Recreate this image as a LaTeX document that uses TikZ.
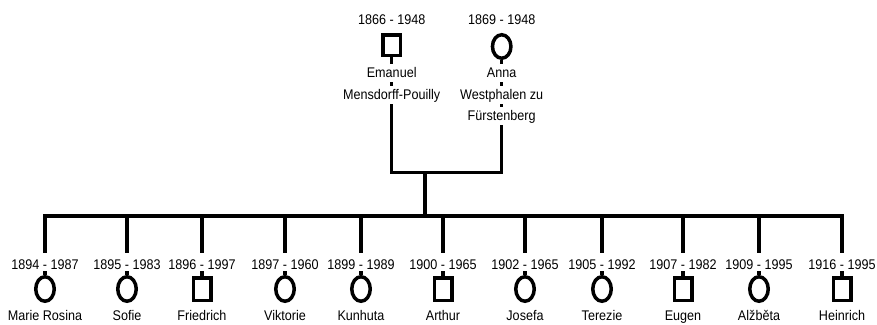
\documentclass[tikz,border=0pt]{standalone}
\usepackage{fontspec}
\setmainfont{Liberation Sans}[FakeStretch=0.9]
\usetikzlibrary{shapes.geometric,backgrounds}
\tikzset{
  lbl/.style={fill=white, inner xsep=1pt, inner ysep=0pt, text height=13.5pt, text depth=4.5pt, anchor=base, font=\fontsize{14}{16}\selectfont},
  datelbl/.style={lbl, text height=16pt, text depth=2pt},
  mal/.style={draw, rectangle, line width=3.5pt, minimum width=17.5pt, minimum height=22.5pt, inner sep=0pt, fill=white},
  fem/.style={draw, ellipse, line width=3.5pt, minimum width=18.5pt, minimum height=24.5pt, inner sep=0pt, fill=white},
  conn/.style={line width=3.5pt}
}
\begin{document}
\begin{tikzpicture}[x=1pt,y=-1pt]
\useasboundingbox (0,0) rectangle (877,324);
% parents
\node[datelbl] (emd) at (391.7,24) {1866 - 1948};
\node[mal, minimum height=20.5pt] (ems) at (391.7,45) {};
\node[lbl] (emn1) at (391.7,77.5) {Emanuel};
\node[lbl] (emn2) at (391.7,99) {Mensdorff-Pouilly};
\node[datelbl] (and) at (501.7,24) {1869 - 1948};
\node[fem, minimum height=23.5pt] (ans) at (501.7,46.5) {};
\node[lbl] (ann1) at (501.7,77.5) {Anna};
\node[lbl] (ann2) at (501.7,99) {Westphalen zu};
\node[lbl] (ann3) at (501.7,120.5) {Fürstenberg};
\coordinate (cpl) at (425,172.3);
\coordinate (bar) at (425,216);
% children
\foreach \x/\d/\s/\n [count=\i] in {
  45/1894 - 1987/fem/Marie Rosina,
  127/1895 - 1983/fem/Sofie,
  202/1896 - 1997/mal/Friedrich,
  285/1897 - 1960/fem/Viktorie,
  361/1899 - 1989/fem/Kunhuta,
  443/1900 - 1965/mal/Arthur,
  525/1902 - 1965/fem/Josefa,
  602/1905 - 1992/fem/Terezie,
  683/1907 - 1982/mal/Eugen,
  759/1909 - 1995/fem/Alžběta,
  842/1916 - 1995/mal/Heinrich}{
  \node[datelbl] (cd\i) at (\x,269) {\d};
  \node[\s] (cs\i) at (\x,289) {};
  \node[lbl] (cn\i) at (\x,320) {\n};
}
\begin{scope}[on background layer]
  \draw[conn] (ems.south) |- (cpl) -| (ans.south);
  \draw[conn] (cpl) -- (bar);
  \draw[conn] (cs1.north) |- (bar) -| (cs11.north);
  \foreach \i in {2,...,10} \draw[conn] (cs\i.north) -- (cs\i |- bar);
\end{scope}
\end{tikzpicture}
\end{document}
